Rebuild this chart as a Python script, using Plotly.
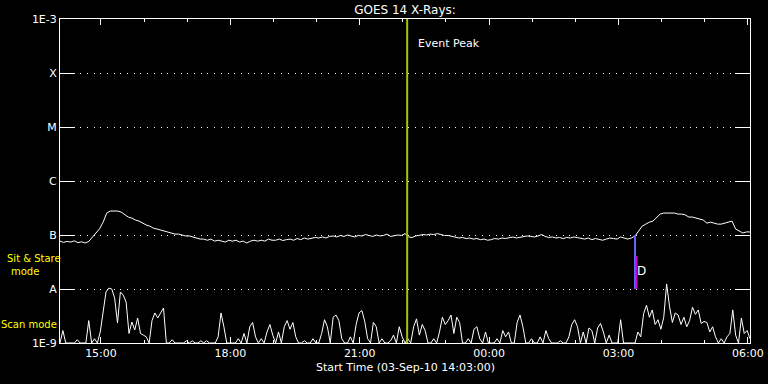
import pandas as pd
import plotly.graph_objects as go

# ---------------- data ----------------
start_time = "2010-09-03 14:03:00"
end_time = "2010-09-04 06:03:00"

# long channel (1-8 A) flux in units of 1e-8 W/m^2, 5-min samples
long_flux_e8 = [
    7.7, 7.3, 7.6, 7.4, 7.8, 7.2, 7.5, 7.1, 7.6, 9.0, 11.0, 13.0,
    17.3, 25.5, 27.8, 27.8, 27.8, 26.6, 23.5, 21.5, 20.5, 18.9, 18.1, 16.6,
    15.3, 14.6, 13.4, 12.9, 12.3, 11.8, 11.4, 10.9, 10.4, 10.4, 10.0, 9.6,
    9.6, 9.2, 8.8, 8.4, 8.4, 8.0, 8.4, 7.7, 8.0, 7.7, 7.4, 8.0,
    7.7, 8.0, 7.4, 7.7, 7.1, 7.7, 8.0, 7.7, 8.0, 7.7, 8.4, 8.0,
    8.0, 8.4, 7.9, 8.2, 8.4, 8.0, 8.6, 8.2, 8.8, 8.4, 8.6, 9.0,
    8.8, 9.2, 8.8, 9.4, 9.6, 9.2, 9.8, 9.4, 10.0, 9.6, 9.2, 9.8,
    9.6, 10.2, 9.8, 9.4, 10.0, 9.6, 9.8, 10.4, 9.4, 9.6, 10.0, 9.8,
    10.6, 9.2, 9.0, 9.6, 9.8, 10.2, 10.0, 10.4, 10.2, 10.6, 10.2, 9.8,
    9.8, 9.4, 9.2, 8.8, 9.0, 8.6, 8.8, 8.4, 8.6, 8.2, 8.4, 8.0,
    8.2, 8.6, 8.4, 8.8, 8.6, 9.0, 9.2, 8.8, 9.0, 9.2, 9.6, 9.4,
    9.2, 9.6, 10.2, 9.4, 9.0, 9.2, 8.8, 9.0, 8.6, 9.0, 8.8, 9.2,
    9.0, 8.6, 8.4, 8.8, 8.2, 8.6, 8.4, 8.0, 8.4, 8.8, 8.6, 8.4,
    9.2, 8.8, 8.4, 8.8, 9.6, 11.8, 14.6, 15.9, 17.3, 18.1, 21.5, 24.4,
    25.5, 25.5, 25.5, 25.5, 24.4, 24.4, 23.5, 21.5, 21.5, 20.5, 19.7, 18.9,
    16.6, 17.3, 16.6, 15.9, 15.9, 16.6, 17.3, 18.1, 12.9, 11.8, 10.9, 11.4,
    11.4,
]

# short channel (0.5-4 A) flux in units of 1e-9 W/m^2, 4-min samples
short_flux_e9 = [
    1.0, 1.7, 1.0, 1.0, 1.0, 1.0, 1.15, 1.0, 1.0, 1.0, 2.6, 1.0, 1.2, 1.0, 1.6,
    4.1, 8.8, 10.4, 10.0, 6.8, 2.35, 8.8, 7.7, 5.7, 1.5, 2.45, 1.74, 2.9, 1.5, 1.4,
    1.3, 1.0, 2.6, 3.6, 2.9, 3.6, 4.45, 1.0, 1.0, 1.15, 1.0, 1.0, 1.0, 1.0, 1.1,
    1.0, 1.1, 1.0, 1.0, 1.1, 1.0, 1.1, 1.0, 1.0, 1.0, 1.3, 3.6, 2.0, 1.0, 1.0,
    1.0, 1.0, 1.2, 1.0, 1.5, 1.0, 2.0, 2.4, 1.3, 1.0, 1.2, 1.0, 1.6, 2.2, 1.4,
    1.0, 1.6, 1.0, 2.0, 2.6, 1.8, 2.4, 1.3, 1.0, 1.0, 1.1, 1.0, 1.0, 1.2, 1.0,
    1.0, 1.5, 2.7, 2.0, 1.0, 3.0, 3.3, 2.6, 1.2, 1.0, 1.0, 1.3, 1.0, 2.2, 3.6,
    4.0, 2.5, 1.2, 1.0, 2.4, 2.0, 1.0, 1.2, 1.0, 1.0, 1.1, 1.4, 1.0, 2.0, 1.3,
    1.0, 1.2, 1.0, 2.0, 2.8, 1.4, 2.2, 1.7, 1.0, 1.0, 1.2, 1.0, 1.6, 3.0, 2.2,
    2.6, 3.3, 1.5, 3.0, 2.4, 1.0, 1.0, 1.2, 1.0, 1.8, 2.0, 1.2, 1.0, 1.6, 1.0,
    1.0, 1.0, 1.2, 1.0, 1.7, 1.3, 1.6, 1.0, 1.0, 2.4, 3.3, 2.0, 1.0, 1.0, 1.2,
    1.0, 1.0, 1.3, 1.0, 1.7, 1.2, 1.0, 1.0, 1.0, 1.1, 1.0, 1.0, 1.3, 2.2, 2.7,
    2.0, 1.0, 1.6, 1.0, 1.9, 1.7, 1.0, 1.9, 2.3, 1.6, 1.0, 1.4, 1.0, 1.0, 1.0,
    2.7, 1.0, 1.0, 1.0, 1.0, 1.0, 1.6, 1.3, 3.5, 5.0, 3.0, 4.1, 2.2, 2.7, 1.8,
    3.0, 12.4, 4.8, 2.4, 3.6, 3.3, 2.2, 3.0, 2.0, 2.6, 4.6, 3.4, 4.1, 2.3, 2.5,
    2.4, 1.6, 2.0, 1.3, 1.0, 1.2, 1.0, 1.3, 1.5, 4.1, 1.4, 1.0, 2.9, 1.5, 1.7,
    1.2,
]

ytick_vals = [1e-9, 1e-8, 1e-7, 1e-6, 1e-5, 1e-4, 1e-3]
ytick_text = ["1E-9", "A", "B", "C", "M", "X", "1E-3"]

event_time = "2010-09-03 22:06:00"
event_range = [1e-9, 1e-3]
event_label = "Event Peak"

d_time = "2010-09-04 03:23:00"
d_time2 = "2010-09-04 03:25:00"
d_blue_range = [1e-8, 1e-7]
d_magenta_range = [1e-8, 4.1e-8]
d_label = "D"

title_text = "GOES 14 X-Rays:"
xtitle_text = "Start Time (03-Sep-10 14:03:00)"

# ---------------- build ----------------
long_t = pd.date_range(start_time, periods=len(long_flux_e8), freq="5min")
short_t = pd.date_range(start_time, periods=len(short_flux_e9), freq="4min")
long_y = [v * 1e-8 for v in long_flux_e8]
short_y = [v * 1e-9 for v in short_flux_e9]

FONT = "DejaVu Sans"
fig = go.Figure()
fig.add_trace(go.Scatter(x=short_t, y=short_y, mode="lines",
                         line=dict(color="white", width=1), showlegend=False))
fig.add_trace(go.Scatter(x=long_t, y=long_y, mode="lines",
                         line=dict(color="white", width=1), showlegend=False))
fig.add_trace(go.Scatter(x=[event_time, event_time], y=event_range, mode="lines",
                         line=dict(color="#a0c800", width=2), showlegend=False))
fig.add_trace(go.Scatter(x=[d_time, d_time], y=d_blue_range, mode="lines",
                         line=dict(color="#6464ff", width=2), showlegend=False))
fig.add_trace(go.Scatter(x=[d_time2, d_time2], y=d_magenta_range, mode="lines",
                         line=dict(color="#d000d0", width=2), showlegend=False))

H = 324.0
def py(ypx):
    return (343 - ypx) / H

annotations = [
    dict(text=event_label, x=event_time, y=py(43), xref="x", yref="paper",
         xanchor="left", yanchor="middle", xshift=9, showarrow=False,
         font=dict(family=FONT, size=11, color="white")),
    dict(text=d_label, x=d_time, y=-7.667, xref="x", yref="y",
         xanchor="left", yanchor="middle", xshift=0, showarrow=False,
         font=dict(family=FONT, size=12, color="white")),
    dict(text="Sit &amp; Stare", x=0, y=py(258), xref="paper", yref="paper",
         xanchor="center", yanchor="middle", xshift=-26, showarrow=False,
         font=dict(family=FONT, size=10, color="#ffff00")),
    dict(text="mode", x=0, y=py(271), xref="paper", yref="paper",
         xanchor="center", yanchor="middle", xshift=-35, showarrow=False,
         font=dict(family=FONT, size=10, color="#ffff00")),
    dict(text="Scan mode", x=0, y=py(324), xref="paper", yref="paper",
         xanchor="center", yanchor="middle", xshift=-31, showarrow=False,
         font=dict(family=FONT, size=10, color="#ffff00")),
    dict(text=xtitle_text, x=0.5, y=py(368), xref="paper", yref="paper",
         xanchor="center", yanchor="middle", showarrow=False,
         font=dict(family=FONT, size=11, color="white")),
]

fig.update_layout(
    width=768, height=384,
    margin=dict(l=60, r=18, t=19, b=41, pad=0, autoexpand=False),
    paper_bgcolor="black", plot_bgcolor="black",
    font=dict(family=FONT, size=11, color="white"),
    title=dict(text=title_text, x=(60 + 345) / 768, xanchor="center",
               y=1 - 10 / 384, yanchor="middle", yref="container",
               font=dict(family=FONT, size=12, color="white")),
    annotations=annotations,
    showlegend=False,
)
fig.update_xaxes(
    type="date", range=[start_time, end_time], automargin=False,
    showline=True, linecolor="white", linewidth=1, mirror="ticks",
    ticks="inside", ticklen=6, tickcolor="white", tickwidth=1,
    tick0="2010-09-03 15:00:00", dtick=3 * 3600000, tickformat="%H:%M",
    tickfont=dict(family=FONT, size=11, color="white"),
    minor=dict(ticks="inside", ticklen=3, tickcolor="white", dtick=3600000,
               tick0="2010-09-03 15:00:00", showgrid=False),
    showgrid=False, zeroline=False,
)
fig.update_yaxes(
    type="log", range=[-9, -3], automargin=False,
    showline=True, linecolor="white", linewidth=1, mirror="ticks",
    ticks="inside", ticklen=15, tickcolor="white", tickwidth=1,
    tickvals=ytick_vals, ticktext=ytick_text,
    tickfont=dict(family=FONT, size=11, color="white"),
    showgrid=True, gridcolor="white", gridwidth=1, griddash="1px,5.7px",
    zeroline=False,
)

fig.write_html("out.html")
